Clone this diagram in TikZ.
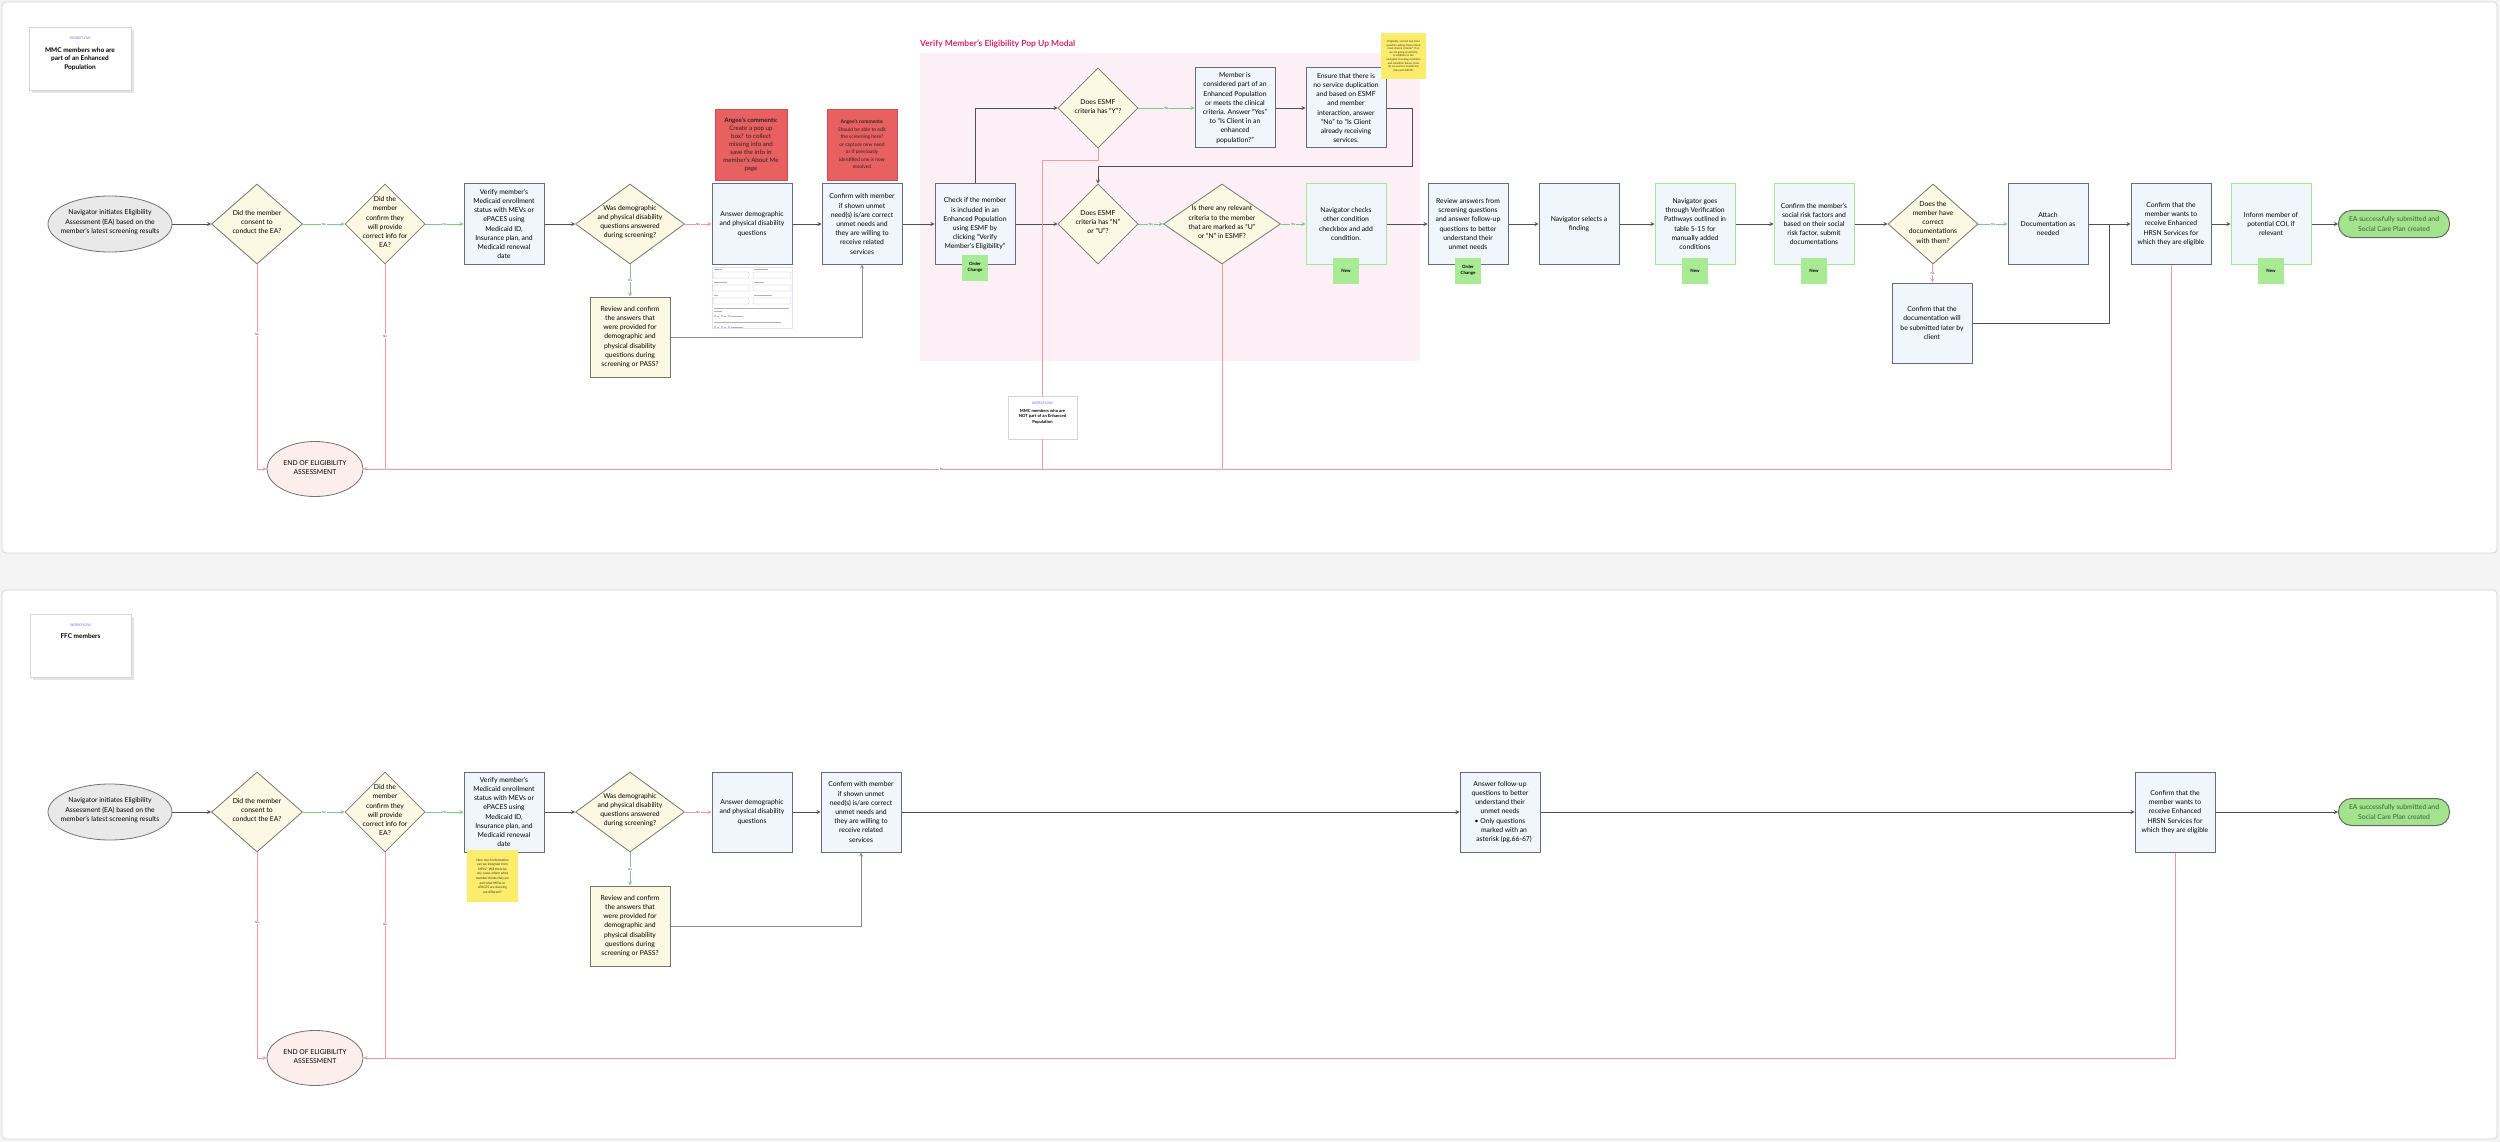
\documentclass[tikz,border=0pt]{standalone}
\usepackage{xcolor}
\usepackage{fontspec}
\setmainfont{Lato}
\usepackage{tikz}
\usetikzlibrary{shapes,arrows,positioning,calc}

\definecolor{pagegray}{HTML}{F4F4F4}
\definecolor{framegray}{HTML}{D4D4D4}
\definecolor{linegray}{HTML}{505050}
\definecolor{stepblue}{HTML}{F1F6FD}
\definecolor{stepedge}{HTML}{676B72}
\definecolor{askfill}{HTML}{FBF8E3}
\definecolor{askedge}{HTML}{77776A}
\definecolor{yesgreen}{HTML}{79C98A}
\definecolor{nored}{HTML}{F29A9A}
\definecolor{newedge}{HTML}{A3E698}
\definecolor{tagfill}{HTML}{A9EA95}
\definecolor{modalpink}{HTML}{FCF0F6}
\definecolor{modalhead}{HTML}{D3236F}
\definecolor{commentred}{HTML}{E8605F}
\definecolor{stickyyellow}{HTML}{FCEC6C}
\definecolor{endpink}{HTML}{FDEEEE}
\definecolor{startgray}{HTML}{E9E9E9}
\definecolor{donegreen}{HTML}{A3E38E}
\definecolor{donetext}{HTML}{3B5E35}
\definecolor{flowpurple}{HTML}{7B61FF}

\newcommand\flowfont{\fontsize{6.8}{9.2}\selectfont}
\newcommand\tagfont{\fontsize{4.4}{6}\selectfont\bfseries}
\newcommand\edgefont{\fontsize{3}{3.5}\selectfont}
\newcommand\wflabel{\fontsize{3.5}{4}\selectfont\mdseries\color{flowpurple}}
\newcommand\midtext[2][66pt]{\makebox[0pt]{\smash{\parbox[c]{#1}{\centering #2}}}}

\tikzset{
  stepbox/.style={rectangle, draw=stepedge, fill=stepblue, line width=1pt,
    minimum width=80pt, minimum height=80pt, inner sep=1pt, align=center, font=\flowfont},
  newstep/.style={stepbox, draw=newedge},
  askbox/.style={stepbox, fill=askfill, draw=askedge},
  ask/.style={diamond, draw=askedge, fill=askfill, line width=0.8pt,
    minimum width=#1, minimum height=80pt, inner sep=0pt, font=\flowfont},
  ask/.default=80pt,
  startnode/.style={ellipse, draw=black!55, fill=startgray, line width=0.8pt,
    minimum width=124pt, minimum height=56pt, inner sep=0pt, font=\flowfont},
  endnode/.style={ellipse, draw=black!55, fill=endpink, line width=0.8pt,
    minimum width=96pt, minimum height=55pt, inner sep=0pt, font=\flowfont},
  donepill/.style={rectangle, rounded corners=13pt, draw=black!60, fill=donegreen, line width=1pt,
    minimum width=111pt, minimum height=27pt, inner sep=1pt, align=center, font=\flowfont, text=donetext},
  newtag/.style={fill=tagfill, minimum width=26pt, minimum height=26pt, inner sep=0pt,
    align=center, font=\tagfont},
  flowline/.style={draw=linegray, line width=0.8pt, ->},
  yesline/.style={draw=yesgreen, line width=0.8pt, ->},
  noline/.style={draw=nored, line width=0.8pt},
  edgetag/.style={fill=white, inner sep=0.6pt, font=\edgefont, text=black!75},
  wfcard/.style={draw=framegray, fill=white, line width=0.8pt},
  cardtext/.style={align=center, inner sep=0pt, font=\fontsize{6.5}{8.7}\selectfont\bfseries},
  commentnote/.style={fill=commentred, draw=commentred!85!black, line width=0.4pt,
    text=black!85, align=center, inner sep=0pt},
  stickynote/.style={fill=stickyyellow, align=center, inner sep=0pt, text=black!80},
}

\begin{document}
\begin{tikzpicture}[x=1pt, y=-1pt, >=stealth]
  \useasboundingbox (0,0) rectangle (2500,1142);
  % page
  \fill[pagegray] (0,0) rectangle (2500,1142);
  \draw[wfcard, rounded corners=4pt] (2,2) rectangle (2497,553);
  \draw[wfcard, rounded corners=4pt] (2,590) rectangle (2497,1139);

  % pop up modal
  \fill[modalpink] (920,53) rectangle (1420,361);
  \node[anchor=west, inner sep=0pt, text=modalhead, font=\fontsize{8.5}{10}\selectfont\bfseries]
    (modaltitle) at (920,44) {Verify Member's Eligibility Pop Up Modal};

  % workflow cards
  \fill[black!10] (32,30) rectangle (134,93);
  \node[wfcard, minimum width=102pt, minimum height=63pt] (card1) at (80,58.5) {};
  \node[cardtext, below=10pt of card1.north] (card1t)
    {{\wflabel WORKFLOW}\\[4pt]MMC members who are\\part of an Enhanced\\Population};
  \fill[black!10] (33,617) rectangle (134,680);
  \node[wfcard, minimum width=101pt, minimum height=63pt] (card2) at (80.5,645.5) {};
  \node[cardtext, below=10pt of card2.north] (card2t) {{\wflabel WORKFLOW}\\[3pt]FFC members};

  % top flow
  \node[startnode] (start1) at (110,224)
    {\midtext[112pt]{Navigator initiates Eligibility\\Assessment (EA) based on the\\member's latest screening results}};
  \node[ask=91pt] (consent1) at (257,224) {\midtext{Did the member\\consent to\\conduct the EA?}};
  \node[ask] (confirminfo1) at (385,224)
    {\midtext{Did the\\member\\confirm they\\will provide\\correct info for\\EA?}};
  \node[stepbox] (verify1) at (504,224) {Verify member's\\Medicaid enrollment\\status with MEVs or\\ePACES using\\Medicaid ID,\\Insurance plan, and\\Medicaid renewal\\date};
  \node[ask=109pt] (answered1) at (630,224)
    {\midtext[84pt]{Was demographic\\and physical disability\\questions answered\\during screening?}};
  \node[askbox] (review1) at (630,337) {Review and confirm\\the answers that\\were provided for\\demographic and\\physical disability\\questions during\\screening or PASS?};
  \node[stepbox] (answer1) at (752,224) {Answer demographic\\and physical disability\\questions};
  \node[stepbox] (confirm1) at (862,224) {Confirm with member\\if shown unmet\\need(s) is/are correct\\unmet needs and\\they are willing to\\receive related\\services};
  \node[commentnote, minimum width=72pt, minimum height=71pt, font=\fontsize{6.2}{8}\selectfont]
    (angee1) at (751,144.5) {\textbf{Angee's comments:}\\Create a pop up\\box? to collect\\missing info and\\save the info in\\member's About Me\\page};
  \node[commentnote, minimum width=70pt, minimum height=71pt, font=\fontsize{5}{7.5}\selectfont]
    (angee2) at (862,144.5) {\textbf{Angee's comments:}\\Should be able to edit\\the screening here?\\or capture new need\\or if previously\\identified one is now\\resolved};
  \node[stepbox] (check1) at (975,224) {Check if the member\\is included in an\\Enhanced Population\\using ESMF by\\clicking ``Verify\\Member's Eligibility''};
  \node[ask] (esmfy) at (1098,108) {\midtext{Does ESMF\\criteria has ``Y''?}};
  \node[stepbox] (member1) at (1235,108) {Member is\\considered part of an\\Enhanced Population\\or meets the clinical\\criteria. Answer ``Yes''\\to ``Is Client in an\\enhanced\\population?''};
  \node[stepbox] (ensure1) at (1346,108) {Ensure that there is\\no service duplication\\and based on ESMF\\and member\\interaction, answer\\``No'' to ``Is Client\\already receiving\\services.};
  \node[ask] (esmfn) at (1098,224) {\midtext{Does ESMF\\criteria has ``N''\\or ``U''?}};
  \node[ask=117pt] (relevant1) at (1222,224)
    {\midtext[92pt]{Is there any relevant\\criteria to the member\\that are marked as ``U''\\or ``N'' in ESMF?}};
  \node[newstep] (navcheck1) at (1346,224) {Navigator checks\\other condition\\checkbox and add\\condition.};
  \node[stickynote, minimum width=45pt, minimum height=46pt, font=\fontsize{2.7}{3.6}\selectfont]
    (sticky1) at (1403.5,56) {Originally, we had one more\\question asking ``Does Client\\meet clinical criteria?'' If so\\we are going to add this\\in addition to the\\navigator checking condition\\and condition below. How\\do we want to handle this\\data with ESMF?};
  \node[stepbox] (reviewans1) at (1468,224) {Review answers from\\screening questions\\and answer follow-up\\questions to better\\understand their\\unmet needs};
  \node[stepbox] (navsel1) at (1579,224) {Navigator selects a\\finding};
  \node[newstep] (pathways1) at (1695,224) {Navigator goes\\through Verification\\Pathways outlined in\\table 5-15 for\\manually added\\conditions};
  \node[newstep] (social1) at (1814,224) {Confirm the member's\\social risk factors and\\based on their social\\risk factor, submit\\documentations};
  \node[ask=90pt] (hasdocs1) at (1933,224)
    {\midtext{Does the\\member have\\correct\\documentations\\with them?}};
  \node[stepbox] (later1) at (1932,323) {Confirm that the\\documentation will\\be submitted later by\\client};
  \node[stepbox] (attach1) at (2048,224) {Attach\\Documentation as\\needed};
  \node[stepbox] (wants1) at (2171,224) {Confirm that the\\member wants to\\receive Enhanced\\HRSN Services for\\which they are eligible};
  \node[newstep] (inform1) at (2271,224) {Inform member of\\potential COI, if\\relevant};
  \node[donepill] (done1) at (2394,224) {EA successfully submitted and\\Social Care Plan created};
  \node[endnode] (end1) at (315,469) {\midtext[90pt]{END OF ELIGIBILITY\\ASSESSMENT}};
  \node[wfcard, minimum width=69pt, minimum height=43pt] (notcard) at (1042.5,417.5) {};
  \node[cardtext, font=\fontsize{4.2}{5.8}\selectfont\bfseries, below=6pt of notcard.north] (notcardt)
    {{\wflabel WORKFLOW}\\[2pt]MMC members who are\\NOT part of an Enhanced\\Population};

  % tags
  \node[newtag] (order1) at ([yshift=-3pt]check1.south) {Order\\Change};
  \node[newtag] (new1) at ([yshift=-6pt]navcheck1.south) {New};
  \node[newtag] (order2) at ([yshift=-6pt]reviewans1.south) {Order\\Change};
  \node[newtag] (new2) at ([yshift=-6pt]pathways1.south) {New};
  \node[newtag] (new3) at ([yshift=-6pt]social1.south) {New};
  \node[newtag] (new4) at ([yshift=-6pt]inform1.south) {New};

  % form screenshot
  \node[draw=blue!12, fill=white, line width=0.4pt, minimum width=80pt, minimum height=61pt, inner sep=0pt]
    (form1) at (752,297.5) {};
  \draw[black!30, line width=0.5pt] (714,269) -- (722,269) (754,269) -- (768,269)
    (714,282) -- (727,282) (754,282) -- (764,282) (714,295) -- (718,295) (754,295) -- (772,295)
    (714,308) -- (789,308) (714,311) -- (722,311) (714,322) -- (781,322);
  \draw[black!25, line width=0.4pt, rounded corners=0.8pt]
    (713,272) rectangle (749,278) (753,272) rectangle (791,278)
    (713,285) rectangle (749,291) (753,285) rectangle (791,291)
    (713,298) rectangle (749,304) (753,298) rectangle (791,304);
  \draw[blue!45, line width=0.3pt] (715,316) circle (1) (722,316) circle (1) (729,316) circle (1)
    (715,327) circle (1) (722,327) circle (1) (729,327) circle (1);
  \draw[black!30, line width=0.4pt] (717,316) -- (719,316) (724,316) -- (726,316) (731,316) -- (743,316)
    (717,327) -- (719,327) (724,327) -- (726,327) (731,327) -- (743,327);

  % top connectors
  \draw[flowline] (start1) -- (consent1);
  \draw[yesline] (consent1) -- node[edgetag]{Yes} (confirminfo1);
  \draw[yesline] (confirminfo1) -- node[edgetag]{Yes} (verify1);
  \draw[flowline] (verify1) -- (answered1);
  \draw[noline, ->] (answered1) -- node[edgetag]{No} (answer1);
  \draw[yesline] (answered1) -- node[edgetag]{Yes} (review1);
  \draw[flowline] (answer1) -- (confirm1);
  \draw[flowline, draw=black!45] (review1.east) -| (confirm1.south);
  \draw[flowline] (confirm1) -- (check1);
  \draw[flowline] (check1.north) |- (esmfy.west);
  \draw[yesline] (esmfy) -- node[edgetag, fill=modalpink]{Yes} (member1);
  \draw[flowline] (member1) -- (ensure1);
  \draw[flowline] (ensure1.east) -- ++(26,0) |- ([yshift=17pt]esmfn.north) -- (esmfn.north);
  \draw[flowline] (check1) -- (esmfn);
  \draw[yesline] (esmfn) -- node[edgetag, fill=modalpink]{Yes} (relevant1);
  \draw[yesline] (relevant1) -- node[edgetag, fill=modalpink]{Yes} (navcheck1);
  \draw[flowline] (navcheck1) -- (reviewans1);
  \draw[flowline] (reviewans1) -- (navsel1);
  \draw[flowline] (navsel1) -- (pathways1);
  \draw[flowline] (pathways1) -- (social1);
  \draw[flowline] (social1) -- (hasdocs1);
  \draw[yesline] (hasdocs1) -- node[edgetag]{Yes} (attach1);
  \draw[noline, ->] (hasdocs1) -- node[edgetag]{No} (later1);
  \draw[flowline] (attach1) -- (wants1);
  \draw[flowline, -] (later1.east) -| ($(attach1.east)!0.5!(wants1.west)$);
  \draw[flowline] (wants1) -- (inform1);
  \draw[flowline] (inform1) -- (done1);
  \draw[noline, ->] (consent1.south) |- node[edgetag, pos=0.17]{No} (end1.west);
  \draw[noline] (confirminfo1.south) -- node[edgetag, pos=0.35]{No} (confirminfo1.south |- end1.east);
  \draw[noline] (esmfy.south) -- ++(0,12) -| (notcard.north);
  \draw[noline] (notcard.south) -- (notcard.south |- end1.east);
  \draw[noline] (relevant1.south) -- (relevant1.south |- end1.east);
  \draw[noline, ->] (wants1.south) |- node[edgetag, pos=0.84]{No} (end1.east);

  % bottom flow
  \node[startnode] (start2) at (110,812)
    {\midtext[112pt]{Navigator initiates Eligibility\\Assessment (EA) based on the\\member's latest screening results}};
  \node[ask=91pt] (consent2) at (257,812) {\midtext{Did the member\\consent to\\conduct the EA?}};
  \node[ask] (confirminfo2) at (385,812)
    {\midtext{Did the\\member\\confirm they\\will provide\\correct info for\\EA?}};
  \node[stepbox] (verify2) at (504,812) {Verify member's\\Medicaid enrollment\\status with MEVs or\\ePACES using\\Medicaid ID,\\Insurance plan, and\\Medicaid renewal\\date};
  \node[ask=109pt] (answered2) at (630,812)
    {\midtext[84pt]{Was demographic\\and physical disability\\questions answered\\during screening?}};
  \node[askbox] (review2) at (630,926) {Review and confirm\\the answers that\\were provided for\\demographic and\\physical disability\\questions during\\screening or PASS?};
  \node[stepbox] (answer2) at (752,812) {Answer demographic\\and physical disability\\questions};
  \node[stepbox] (confirm2) at (861,812) {Confirm with member\\if shown unmet\\need(s) is/are correct\\unmet needs and\\they are willing to\\receive related\\services};
  \node[stepbox] (followup2) at (1500,812) {Answer follow-up\\questions to better\\understand their\\unmet needs\\\textbullet\ Only questions\\\hspace*{8pt}marked with an\\\hspace*{8pt}asterisk (pg.66-67)};
  \node[stepbox] (wants2) at (2175,812) {Confirm that the\\member wants to\\receive Enhanced\\HRSN Services for\\which they are eligible};
  \node[donepill] (done2) at (2394,812) {EA successfully submitted and\\Social Care Plan created};
  \node[endnode] (end2) at (315,1058) {\midtext[90pt]{END OF ELIGIBILITY\\ASSESSMENT}};
  \node[stickynote, minimum width=51pt, minimum height=52pt, font=\fontsize{3.2}{4.6}\selectfont]
    (sticky2) at (492.5,876) {How much information\\can we integrate from\\MEVs? Will there be\\any cases where what\\member thinks they are\\and what MEVs or\\ePACES are showing\\are different?};

  % bottom connectors
  \draw[flowline] (start2) -- (consent2);
  \draw[yesline] (consent2) -- node[edgetag]{Yes} (confirminfo2);
  \draw[yesline] (confirminfo2) -- node[edgetag]{Yes} (verify2);
  \draw[flowline] (verify2) -- (answered2);
  \draw[noline, ->] (answered2) -- node[edgetag]{No} (answer2);
  \draw[yesline] (answered2) -- node[edgetag]{Yes} (review2);
  \draw[flowline] (answer2) -- (confirm2);
  \draw[flowline, draw=black!45] (review2.east) -| (confirm2.south);
  \draw[flowline] (confirm2) -- (followup2);
  \draw[flowline] (followup2) -- (wants2);
  \draw[flowline] (wants2) -- (done2);
  \draw[noline, ->] (consent2.south) |- node[edgetag, pos=0.17]{No} (end2.west);
  \draw[noline] (confirminfo2.south) -- node[edgetag, pos=0.35]{No} (confirminfo2.south |- end2.east);
  \draw[noline, ->] (wants2.south) |- (end2.east);
\end{tikzpicture}
\end{document}
